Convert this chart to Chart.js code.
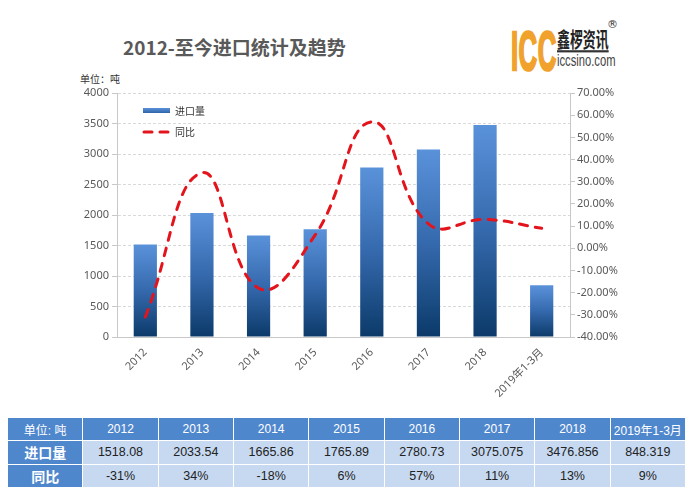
<!DOCTYPE html>
<html>
<head>
<meta charset="utf-8">
<script src="https://cdn.jsdelivr.net/npm/chart.js@4/dist/chart.umd.min.js"></script>
<style>
  body { margin: 0; width: 692px; height: 496px; background: #fff; position: relative; overflow: hidden;
         font-family: "Noto Sans CJK SC", "Noto Sans", sans-serif; }
  .abs { position: absolute; white-space: nowrap; }
  #title { left: 123px; top: 33px; font-size: 19px; font-weight: bold; color: #595959; }
  #unit { left: 80px; top: 71px; font-size: 10px; color: #333; }
  #logoICC { left: 511px; top: 19px; font-family: "Liberation Sans", sans-serif; font-weight: bold; font-size: 56px;
             line-height: 64px; color: #f0a22c; -webkit-text-stroke: 2.5px #f0a22c;
             transform: scaleX(0.46); transform-origin: left top; letter-spacing: 1px; }
  #logoCN { left: 557px; top: 26px; font-size: 19px; font-weight: bold; color: #222;
            transform: scale(0.68, 1.1); transform-origin: left top; border-bottom: 2px solid #333; line-height: 22px; }
  #logoURL { left: 557px; top: 52px; font-family: "Liberation Sans", sans-serif; font-size: 16px; color: #444;
             transform: scaleX(0.7); transform-origin: left top; }
  #logoR { left: 607px; top: 18px; font-size: 11px; color: #333; font-family: "DejaVu Sans", sans-serif; }
  #chartBox { left: 0; top: 80px; width: 692px; height: 330px; }
  #tbl { left: 8px; top: 418px; width: 678px; height: 70px; }
  .cell { position: absolute; box-sizing: border-box; border-right: 1px solid #fff; border-bottom: 1px solid #fff;
          display: flex; align-items: center; justify-content: center; white-space: nowrap;
          font-family: "Liberation Sans", "Noto Sans CJK SC", sans-serif; font-size: 12.5px; }
</style>
</head>
<body>
<div id="title" class="abs">2012-至今进口统计及趋势</div>
<div id="unit" class="abs">单位：吨</div>
<div id="logoICC" class="abs">ICC</div>
<div id="logoCN" class="abs">鑫椤资讯</div>
<div id="logoURL" class="abs">iccsino.com</div>
<div id="logoR" class="abs">®</div>
<div id="chartBox" class="abs"><canvas id="chart" width="692" height="330"></canvas></div>
<div id="tbl" class="abs"></div>

<script>
const categories = ['2012', '2013', '2014', '2015', '2016', '2017', '2018', '2019年1-3月'];
const importVolume = [1518.08, 2033.54, 1665.86, 1765.89, 2780.73, 3075.075, 3476.856, 848.319];
const yoyPercent = [-31, 34, -18, 6, 57, 11, 13, 9];
const volumeTicks = [0, 500, 1000, 1500, 2000, 2500, 3000, 3500, 4000];
const percentTicks = [-40, -30, -20, -10, 0, 10, 20, 30, 40, 50, 60, 70];

const tickFont = { family: '"Noto Sans", "Noto Sans CJK SC", sans-serif', size: 11 };
const tickColor = '#595959';
const lineRed = '#e3141c';

function barGradient(ctx, top, bottom) {
  const g = ctx.createLinearGradient(0, top, 0, bottom);
  g.addColorStop(0, '#5a92da');
  g.addColorStop(0.5, '#3569ad');
  g.addColorStop(1, '#0b3a69');
  return g;
}

// legend drawn inside the plot area
const innerLegend = {
  id: 'innerLegend',
  afterDraw(chart) {
    const c = chart.ctx;
    const x = chart.chartArea.left + 26;
    const y1 = chart.chartArea.top + 18;
    const y2 = chart.chartArea.top + 39;
    c.save();
    c.fillStyle = barGradient(c, y1 - 3, y1 + 6);
    c.fillRect(x, y1 - 3, 27, 5);
    c.strokeStyle = lineRed;
    c.lineWidth = 3;
    c.lineCap = 'round';
    c.setLineDash([8, 8]);
    c.beginPath();
    c.moveTo(x + 1, y2);
    c.lineTo(x + 28, y2);
    c.stroke();
    c.setLineDash([]);
    c.fillStyle = '#333';
    c.font = '10px "Noto Sans CJK SC", sans-serif';
    c.textBaseline = 'middle';
    c.fillText('进口量', x + 32, y1);
    c.fillText('同比', x + 32, y2);
    c.restore();
  }
};

new Chart(document.getElementById('chart'), {
  data: {
    labels: categories,
    datasets: [
      {
        type: 'line',
        label: '同比',
        data: yoyPercent,
        yAxisID: 'y1',
        borderColor: lineRed,
        borderWidth: 3,
        borderDash: [8, 8],
        borderCapStyle: 'round',
        tension: 0.45,
        pointRadius: 0,
        fill: false,
        order: 0
      },
      {
        type: 'bar',
        label: '进口量',
        data: importVolume,
        yAxisID: 'y',
        backgroundColor: (ctx) => {
          const chart = ctx.chart;
          if (!chart.chartArea || ctx.parsed === undefined) return '#3a6fb3';
          const ys = chart.scales.y;
          return barGradient(chart.ctx, ys.getPixelForValue(ctx.parsed.y), ys.getPixelForValue(0));
        },
        barPercentage: 0.41,
        categoryPercentage: 1,
        order: 1
      }
    ]
  },
  options: {
    responsive: false,
    animation: false,
    layout: { padding: { top: 13, left: 0, right: 0, bottom: 0 } },
    plugins: { legend: { display: false }, tooltip: { enabled: false } },
    scales: {
      x: {
        grid: { display: false, drawTicks: false },
        border: { color: '#c8c8c8' },
        ticks: { font: tickFont, color: tickColor, minRotation: 45, maxRotation: 45, padding: 9, autoSkip: false },
        afterFit: (s) => { s.height = 73; }
      },
      y: {
        position: 'left',
        min: 0,
        max: 4000,
        afterBuildTicks: (s) => { s.ticks = volumeTicks.map(v => ({ value: v })); },
        ticks: { font: tickFont, color: tickColor, padding: 3, callback: (v) => String(v) },
        grid: { color: '#d9d9d9', tickColor: '#c8c8c8', tickLength: 5 },
        border: { color: '#c8c8c8', dash: [3, 2] },
        afterFit: (s) => { s.width = 117; }
      },
      y1: {
        position: 'right',
        min: -40,
        max: 70,
        afterBuildTicks: (s) => { s.ticks = percentTicks.map(v => ({ value: v })); },
        ticks: { font: tickFont, color: tickColor, padding: 2, callback: (v) => v.toFixed(2) + '%' },
        grid: { drawOnChartArea: false, tickColor: '#c8c8c8', tickLength: 5 },
        border: { color: '#c8c8c8' },
        afterFit: (s) => { s.width = 122; }
      }
    }
  },
  plugins: [innerLegend]
});

// data table under the chart, laid out as a grid of boxes
const tbl = document.getElementById('tbl');
const colW = 678 / (categories.length + 1);
const rowH = 23.3;
const headBlue = '#4f87cd';
const cellBlue = '#c6d9f1';
function addCell(row, col, text, bg, color, size, bold) {
  const d = document.createElement('div');
  d.className = 'cell';
  d.style.left = (col * colW) + 'px';
  d.style.top = (row * rowH) + 'px';
  d.style.width = colW + 'px';
  d.style.height = rowH + 'px';
  d.style.background = bg;
  d.style.color = color;
  d.style.fontSize = size + 'px';
  if (bold) d.style.fontWeight = 'bold';
  d.textContent = text;
  tbl.appendChild(d);
}
const rows = [
  ['单位: 吨', categories, false],
  ['进口量', importVolume.map(String), true],
  ['同比', yoyPercent.map(v => v + '%'), true]
];
rows.forEach(([label, cells, bigLabel], r) => {
  addCell(r, 0, label, headBlue, '#fff', bigLabel ? 14 : 12, bigLabel);
  cells.forEach((t, i) => {
    if (r === 0) addCell(r, i + 1, t, headBlue, '#fff', 12, false);
    else addCell(r, i + 1, t, cellBlue, '#222', 12.5, false);
  });
});
</script>
</body>
</html>
